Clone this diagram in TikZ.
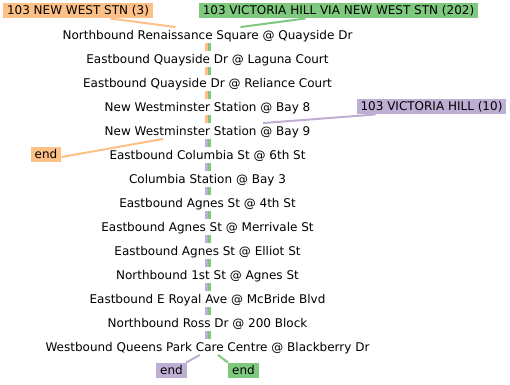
\documentclass[tikz,border=0pt]{standalone}
\usepackage{fontspec}
\setmainfont{DejaVu Sans}
\definecolor{rtorange}{HTML}{FDC086}
\definecolor{rtgreen}{HTML}{7FC97F}
\definecolor{rtpurple}{HTML}{BEAED4}
\tikzset{
  stop/.style={inner xsep=2pt, inner ysep=1.25pt, text height=10.5pt, text depth=2.5pt},
  route/.style={stop, inner xsep=4pt},
  leg/.style={line width=2.5pt},
  link/.style={line width=2pt}
}
\begin{document}
\begin{tikzpicture}[x=1pt, y=-1pt, font=\fontsize{12}{14}\selectfont]
\useasboundingbox (0,0) rectangle (510,384);
\node[stop] (s1) at (207.5,35) {Northbound Renaissance Square @ Quayside Dr};
\node[stop] (s2) at (207.5,59) {Eastbound Quayside Dr @ Laguna Court};
\node[stop] (s3) at (207.5,83) {Eastbound Quayside Dr @ Reliance Court};
\node[stop] (s4) at (207.5,107) {New Westminster Station @ Bay 8};
\node[stop] (s5) at (207.5,131) {New Westminster Station @ Bay 9};
\node[stop] (s6) at (207.5,155) {Eastbound Columbia St @ 6th St};
\node[stop] (s7) at (207.5,179) {Columbia Station @ Bay 3};
\node[stop] (s8) at (207.5,203) {Eastbound Agnes St @ 4th St};
\node[stop] (s9) at (207.5,227) {Eastbound Agnes St @ Merrivale St};
\node[stop] (s10) at (207.5,251) {Eastbound Agnes St @ Elliot St};
\node[stop] (s11) at (207.5,275) {Northbound 1st St @ Agnes St};
\node[stop] (s12) at (207.5,299) {Eastbound E Royal Ave @ McBride Blvd};
\node[stop] (s13) at (207.5,323) {Northbound Ross Dr @ 200 Block};
\node[stop] (s14) at (207.5,347) {Westbound Queens Park Care Centre @ Blackberry Dr};
\node[route, fill=rtorange] (r3) at (78,10.5) {103 NEW WEST STN (3)};
\node[route, fill=rtgreen] (r202) at (338.5,10.5) {103 VICTORIA HILL VIA NEW WEST STN (202)};
\node[route, fill=rtpurple] (r10) at (431.5,106.5) {103 VICTORIA HILL (10)};
\node[route, fill=rtorange] (e3) at (46,154.5) {end};
\node[route, fill=rtpurple] (e10) at (171.5,370.5) {end};
\node[route, fill=rtgreen] (e202) at (243.5,370.5) {end};
\draw[link, rtorange] ([xshift=32pt]r3.south) -- ([xshift=-32pt]s1.north);
\draw[link, rtgreen] ([xshift=-33pt]r202.south) -- ([xshift=33pt]s1.north);
\draw[link, rtpurple] ([xshift=-56pt]r10.south) -- ([xshift=55.5pt]s5.north);
\foreach \a/\b in {1/2,2/3,3/4,4/5} {
  \draw[leg, rtorange] ([xshift=-1pt]s\a.south) -- ([xshift=-1pt]s\b.north);
}
\foreach \a/\b in {5/6,6/7,7/8,8/9,9/10,10/11,11/12,12/13,13/14} {
  \draw[leg, rtpurple] ([xshift=-1pt]s\a.south) -- ([xshift=-1pt]s\b.north);
}
\foreach \a/\b in {1/2,2/3,3/4,4/5,5/6,6/7,7/8,8/9,9/10,10/11,11/12,12/13,13/14} {
  \draw[leg, rtgreen] ([xshift=2pt]s\a.south) -- ([xshift=2pt]s\b.north);
}
\draw[link, rtorange] ([xshift=-44.5pt]s5.south) -- ([yshift=-2.5pt]e3.east);
\draw[link, rtpurple] ([xshift=-7.5pt]s14.south) -- ([xshift=-1pt]e10.north east);
\draw[link, rtgreen] ([xshift=10.5pt]s14.south) -- (e202.north west);
\end{tikzpicture}
\end{document}
